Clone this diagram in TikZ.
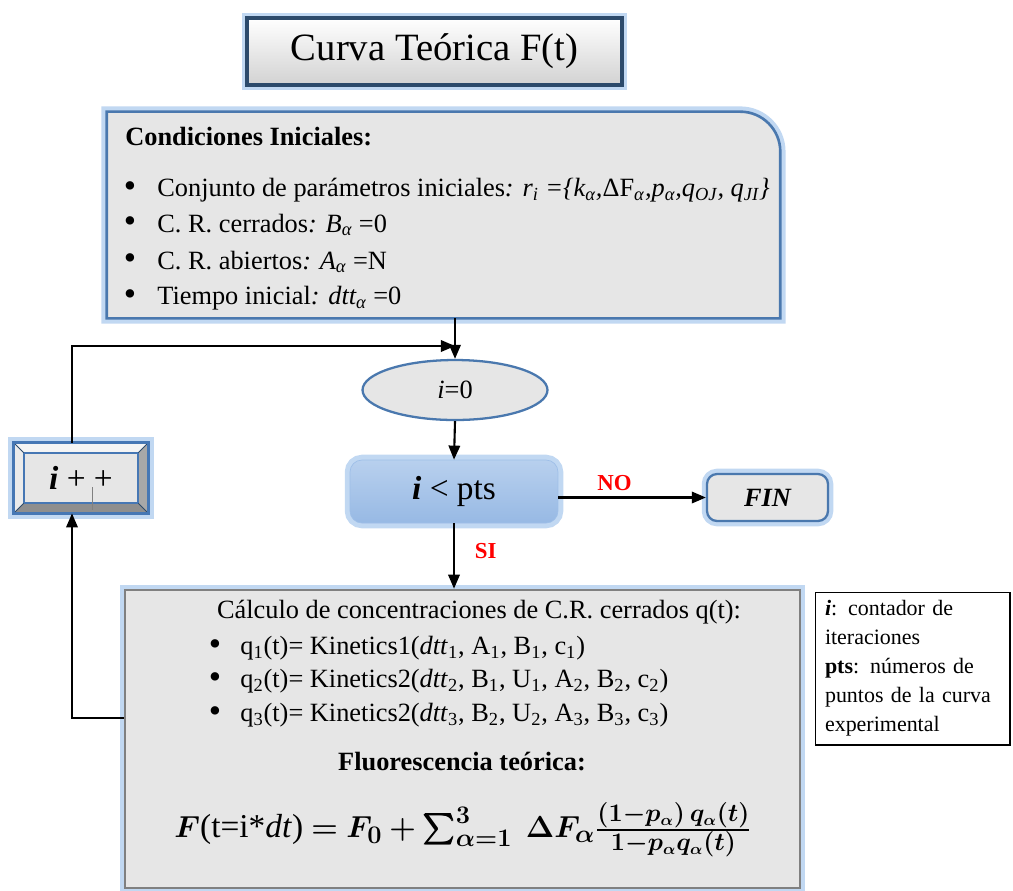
\documentclass[tikz,border=0pt]{standalone}
\usepackage{fontspec}
\setmainfont{Liberation Serif}
\usepackage{amsmath,bm}
\usetikzlibrary{arrows.meta,shapes.geometric}

\definecolor{boxgray}{HTML}{E6E6E6}
\definecolor{glowblue}{HTML}{A7C7EC}
\definecolor{edgeblue}{HTML}{4A78AE}
\definecolor{darkedge}{HTML}{2C4A6B}
\definecolor{titlegray}{HTML}{D2D2D2}
\definecolor{testtop}{HTML}{B8D0EE}
\definecolor{testbot}{HTML}{97B9E4}
\definecolor{testedge}{HTML}{9EBFE8}
\definecolor{ippedge}{HTML}{4677B4}
\definecolor{bevlight}{HTML}{F4F4F4}
\definecolor{bevdark}{HTML}{8E8E8E}
\definecolor{bevmid}{HTML}{A8A8A8}
\definecolor{edgegray}{HTML}{808080}

\tikzset{
	glow/.style={preaction={draw=glowblue, line width=6pt, opacity=.7}},
	arr/.style={-{Triangle[length=8pt,width=6.5pt]}, line width=1.2pt},
	lab/.style={text=red, font=\fontsize{13}{15}\selectfont\bfseries},
	txt/.style={anchor=west, inner sep=0pt, font=\fontsize{15}{18}\selectfont},
	dot/.style={inner sep=0pt, font=\fontsize{20}{20}\selectfont},
}

\begin{document}
\begin{tikzpicture}[x=0.02cm, y=-0.02cm]

\useasboundingbox (0,0) rectangle (1013,890);

\node[glow, draw=darkedge, line width=2.2pt, top color=white, bottom color=titlegray,
	minimum width=7.5cm, minimum height=1.34cm, font=\fontsize{22}{26}\selectfont]
	(title) at (434.5,51.5) {Curva Teórica F(t)};

\node[minimum width=13.46cm, minimum height=4.12cm] (cond) at (443.5,215) {};
\draw[glow, fill=boxgray, draw=edgeblue, line width=1.5pt] (cond.south west) -- (cond.north west)
	-- ([xshift=-0.8cm]cond.north east) arc[start angle=90, end angle=0, radius=0.8cm]
	-- (cond.south east) -- cycle;
\node[txt, font=\fontsize{15}{18}\selectfont\bfseries] (condtit) at (125,137) {Condiciones Iniciales:};
\foreach \y/\text [count=\i] in {
	190/{Conjunto de parámetros iniciales\textit{: r\textsubscript{i} =\{k\textsubscript{α},}ΔF\textsubscript{\textit{α}}\textit{,p\textsubscript{α},q\textsubscript{OJ}, q\textsubscript{JI}\}}},
	225/{C. R. cerrados\textit{: B\textsubscript{α} }=0},
	262/{C. R. abiertos\textit{: A\textsubscript{α} }=N},
	298/{Tiempo inicial\textit{: dtt\textsubscript{α} }=0}}
{
\node[dot] (cb\i) at (130,\y) {\textbullet};
\node[txt] (cl\i) at (157,\y) {\text};
}

\node[ellipse, draw=edgeblue, line width=1.3pt, fill=boxgray, minimum width=3.7cm, minimum height=1.2cm,
	font=\fontsize{15}{18}\selectfont] (i0) at (455,390) {\textit{i}=0};

\node[glow, rounded corners=0.24cm, draw=testedge, top color=testtop, bottom color=testbot,
	minimum width=4.16cm, minimum height=1.26cm, font=\fontsize{19}{22}\selectfont]
	(test) at (454,491.5) {{\bfseries\itshape i} < pts};

\node[glow, rounded corners=0.2cm, draw=edgeblue, line width=1.3pt, fill=boxgray,
	minimum width=2.42cm, minimum height=0.94cm, font=\fontsize{15}{18}\selectfont\bfseries\itshape]
	(fin) at (767.5,497.5) {FIN};

\node[minimum width=2.68cm, minimum height=1.4cm] (ipp) at (81,478) {};
\draw[glow, fill=boxgray, draw=ippedge, line width=1.5pt] (ipp.north west) rectangle (ipp.south east);
\fill[bevlight] (ipp.north west) -- (ipp.north east) -- ([shift={(-10,10)}]ipp.north east) -- ([shift={(10,10)}]ipp.north west) -- cycle;
\fill[bevlight!92!gray] (ipp.north west) -- ([shift={(10,10)}]ipp.north west) -- ([shift={(10,-10)}]ipp.south west) -- (ipp.south west) -- cycle;
\fill[bevdark] (ipp.south west) -- ([shift={(10,-10)}]ipp.south west) -- ([shift={(-10,-10)}]ipp.south east) -- (ipp.south east) -- cycle;
\fill[bevmid] (ipp.north east) -- ([shift={(-10,10)}]ipp.north east) -- ([shift={(-10,-10)}]ipp.south east) -- (ipp.south east) -- cycle;
\draw[ippedge, line width=1pt] ([shift={(10,10)}]ipp.north west) rectangle ([shift={(-10,-10)}]ipp.south east);
\foreach \c/\s in {north west/{(10,10)}, north east/{(-10,10)}, south west/{(10,-10)}, south east/{(-10,-10)}}
\draw[darkedge, line width=0.5pt] (ipp.\c) -- ([shift={\s}]ipp.\c);
\draw[ippedge, line width=1.5pt] (ipp.north west) rectangle (ipp.south east);
\node[font=\fontsize{19}{22}\selectfont] (ipptxt) at (ipp.center) {{\bfseries\itshape i} + +};
\draw[gray, line width=0.5pt] (92,487) -- (92,510);

\node[glow, draw=edgegray, line width=1.5pt, fill=boxgray, minimum width=13.5cm, minimum height=5.96cm]
	(calc) at (462.5,739) {};
\node[font=\fontsize{15}{18}\selectfont] (calctit) at (479,612) {Cálculo de concentraciones de C.R. cerrados q(t):};
\foreach \y/\text [count=\i] in {
	648/{q\textsubscript{1}(t)= Kinetics1(\textit{dtt}\textsubscript{1}, A\textsubscript{1}, B\textsubscript{1}, c\textsubscript{1})},
	681/{q\textsubscript{2}(t)= Kinetics2(\textit{dtt}\textsubscript{2}, B\textsubscript{1}, U\textsubscript{1}, A\textsubscript{2}, B\textsubscript{2}, c\textsubscript{2})},
	715/{q\textsubscript{3}(t)= Kinetics2(\textit{dtt}\textsubscript{3}, B\textsubscript{2}, U\textsubscript{2}, A\textsubscript{3}, B\textsubscript{3}, c\textsubscript{3})}}
{
\node[dot] (qb\i) at (215,\y) {\textbullet};
\node[txt] (ql\i) at (240,\y) {\text};
}
\node[font=\fontsize{15}{18}\selectfont\bfseries] (fluo) at (462,762) {Fluorescencia teórica:};
\node[inner sep=0pt, font=\fontsize{19}{23}\selectfont] (form) at (463,830)
	{$\bm{F}$(t=i*\textit{dt}) $\bm{=F_0+\sum_{\alpha=1}^{3}\ \Delta F_\alpha\frac{(1-p_\alpha)\,q_\alpha(t)}{1-p_\alpha q_\alpha(t)}}$};

\node[draw, line width=0.6pt, fill=white, minimum width=3.9cm, minimum height=3.06cm, text width=3.5cm,
	align=left, font=\fontsize{12.5}{16.5}\selectfont] (leg) at (912.5,668.5)
	{\textbf{\textit{i}}: contador de\\iteraciones\\\textbf{pts}: números de\\puntos de la curva\\experimental};

\coordinate (back) at (72,346);
\coordinate (join) at (455,346);
\coordinate (exit) at (125,718);

\draw[arr] (i0.north |- cond.south) -- (i0.north);
\draw[arr] (ipp.north -| back) -- (back) -- (join);
\draw[arr] (i0.south) -- (test.north);
\draw[arr] (fin.west -| test.east) -- node[lab, above, pos=0.38] (no) {NO} (fin.west);
\draw[arr] (test.south) -- node[lab, right=8pt, pos=0.43] (si) {SI} (test.south |- calc.north);
\draw[arr] (calc.west |- exit) -| (ipp.south -| back);

\end{tikzpicture}
\end{document}
